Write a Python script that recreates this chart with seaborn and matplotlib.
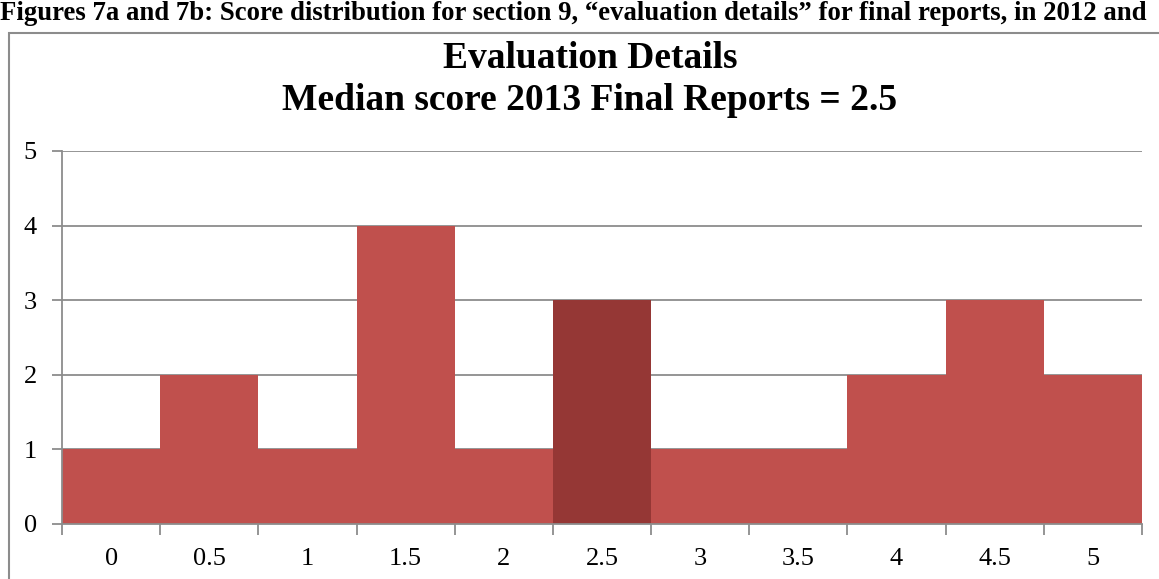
import matplotlib
matplotlib.use("Agg")
import matplotlib.pyplot as plt
import seaborn as sns
import pandas as pd
from matplotlib.patches import Rectangle

categories = ["0", "0.5", "1", "1.5", "2", "2.5", "3", "3.5", "4", "4.5", "5"]
counts = [1, 2, 1, 4, 1, 3, 1, 1, 2, 3, 2]
highlight = "2.5"
y_ticks = [0, 1, 2, 3, 4, 5]

sns.set_theme(style="white")
plt.rcParams['font.family'] = ['Liberation Serif', 'DejaVu Serif']
plt.rcParams['text.color'] = 'black'

base_color = "#C0504D"
hi_color = "#953735"
grid_color = "#8C8C8C"

df = pd.DataFrame({"score": categories, "count": counts})
palette = {c: (hi_color if c == highlight else base_color) for c in categories}

fig = plt.figure(figsize=(11.59, 5.79), dpi=100)
ax = fig.add_axes([62/1159, 1-524/579, (1142-62)/1159, (524-151)/579])

sns.barplot(data=df, x="score", y="count", hue="score", palette=palette,
            width=1.0, legend=False, ax=ax, saturation=1, edgecolor="none", zorder=3)

ax.set_xlim(-0.5, len(categories) - 0.5)
ax.set_ylim(0, 5)
ax.set_yticks(y_ticks)
ax.set_yticklabels([str(v) for v in y_ticks])
ax.set_xlabel("")
ax.set_ylabel("")

for y in y_ticks[1:]:
    ax.axhline(y, color=grid_color, lw=1.3, zorder=1)

for s in ["top", "right"]:
    ax.spines[s].set_visible(False)
for s in ["left", "bottom"]:
    ax.spines[s].set_color(grid_color)
    ax.spines[s].set_linewidth(1.3)
    ax.spines[s].set_zorder(4)

ax.set_xticks(range(len(categories)))
ax.set_xticklabels(categories)
ax.set_xticks([i - 0.5 for i in range(len(categories) + 1)], minor=True)
ax.tick_params(axis="x", which="major", length=0, pad=17, labelsize=19, labelcolor="black")
ax.tick_params(axis="x", which="minor", length=8, width=1.3, color=grid_color, direction="out", bottom=True)
ax.tick_params(axis="y", which="major", length=7, width=1.3, color=grid_color, direction="out",
               left=True, pad=11, labelsize=19, labelcolor="black")

fig.text(590/1159, 1-68/579, "Evaluation Details", ha="center", va="baseline",
         fontsize=27, fontweight="bold", color="black")
fig.text(590/1159, 1-110/579, "Median score 2013 Final Reports = 2.5", ha="center", va="baseline",
         fontsize=27, fontweight="bold", color="black")

fig.text(0.0, 1 - 20/579, "Figures 7a and 7b: Score distribution for section 9, \u201cevaluation details\u201d for final reports, in 2012 and",
         ha="left", va="baseline", fontsize=19.3, fontweight="bold", color="black")

fig.patches.append(Rectangle((9/1159, -0.1), 1.2, 1 - 33/579 + 0.1, transform=fig.transFigure,
                             fill=False, edgecolor=grid_color, lw=1.5, figure=fig))

fig.savefig("out.png", dpi=100)
